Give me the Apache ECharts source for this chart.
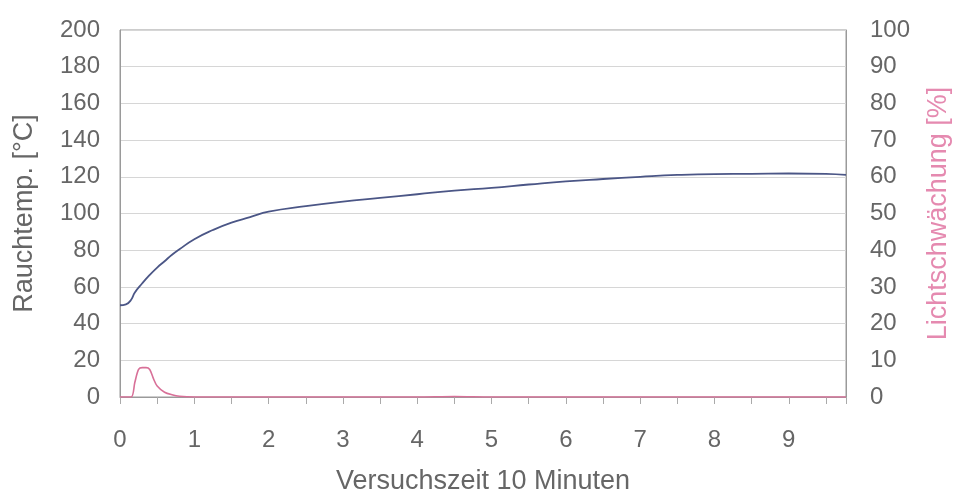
<!DOCTYPE html>
<html><head><meta charset="utf-8">
<script src="https://cdn.jsdelivr.net/npm/echarts@6/dist/echarts.min.js"></script>
<style>html,body{margin:0;padding:0;background:#fff}#c{width:957px;height:503px}</style>
</head><body><div id="c"></div>
<script>
var xTicks = [0,1,2,3,4,5,6,7,8,9];
var tempTime = [0,0.08,0.15,0.2,0.3,0.4,0.5,0.6,0.7,0.8,1,1.25,1.5,1.75,2,2.5,3,3.5,4,4.5,5,5.5,6,6.5,7,7.5,8,8.5,9,9.5,9.77];
var tempVal  = [50,50.5,53,57,62,66.5,70.5,74,77.5,80.5,86,91,95,98,101,104,106.5,108.5,110.5,112.5,114,115.8,117.5,118.8,120,121,121.5,121.6,121.8,121.6,121];
var lightTime = [0,0.15,0.2,0.25,0.3,0.35,0.4,0.45,0.5,0.6,0.7,0.8,1,2,3,4,4.5,5,6,7,8,9,9.77];
var lightVal  = [0,0,4,7.5,8,8,7.5,5,3,1.3,0.6,0.2,0,0,0,0,0.15,0,0,0,0,0,0];

function pairs(a,b){return a.map(function(v,i){return [v,b[i]];});}

var FF = 'Liberation Sans, Arial, sans-serif';
var chart = echarts.init(document.getElementById('c'));
var labelStyle = {color:'#666', fontSize:24, fontFamily:FF};
chart.setOption({
  animation:false,
  grid:{left:120,right:111,top:30,bottom:106,containLabel:false,outerBoundsMode:'none',show:true,borderColor:'#9a9a9a',borderWidth:1},
  xAxis:{type:'value',min:0,max:9.77,interval:1,
    name:'Versuchszeit 10 Minuten',nameLocation:'middle',nameGap:71,
    nameTextStyle:{color:'#666',fontSize:27,fontFamily:FF},
    axisLine:{show:true,lineStyle:{color:'#9a9a9a'}},
    axisTick:{show:true,length:7,lineStyle:{color:'#aaa'}},
    minorTick:{show:true,splitNumber:2,length:7,lineStyle:{color:'#aaa'}},
    splitLine:{show:false},
    axisLabel:Object.assign({margin:31,showMaxLabel:false,formatter:function(v){return xTicks.indexOf(v)>=0?String(v):'';}},labelStyle)
  },
  yAxis:[
    {type:'value',min:0,max:200,interval:20,position:'left',
     name:'Rauchtemp. [°C]',nameLocation:'middle',nameGap:82,
     nameTextStyle:{color:'#666',fontSize:27,fontFamily:FF},
     axisLine:{show:true,lineStyle:{color:'#9a9a9a'}},
     axisTick:{show:false},
     splitLine:{show:true,lineStyle:{color:'#d6d6d6'}},
     axisLabel:Object.assign({margin:20},labelStyle)},
    {type:'value',min:0,max:100,interval:10,position:'right',
     name:'Lichtschwächung [%]',nameLocation:'middle',nameGap:79,
     nameTextStyle:{color:'#e58ab0',fontSize:27,fontFamily:FF},
     axisLine:{show:true,lineStyle:{color:'#9a9a9a'}},
     axisTick:{show:false},
     splitLine:{show:false},
     axisLabel:Object.assign({margin:24},labelStyle)}
  ],
  series:[
    {type:'line',yAxisIndex:0,data:pairs(tempTime,tempVal),smooth:true,showSymbol:false,
     lineStyle:{color:'#4b5686',width:1.8}},
    {type:'line',yAxisIndex:1,data:pairs(lightTime,lightVal),smooth:0.3,showSymbol:false,
     lineStyle:{color:'#d87098',width:1.6}}
  ]
});
</script></body></html>
